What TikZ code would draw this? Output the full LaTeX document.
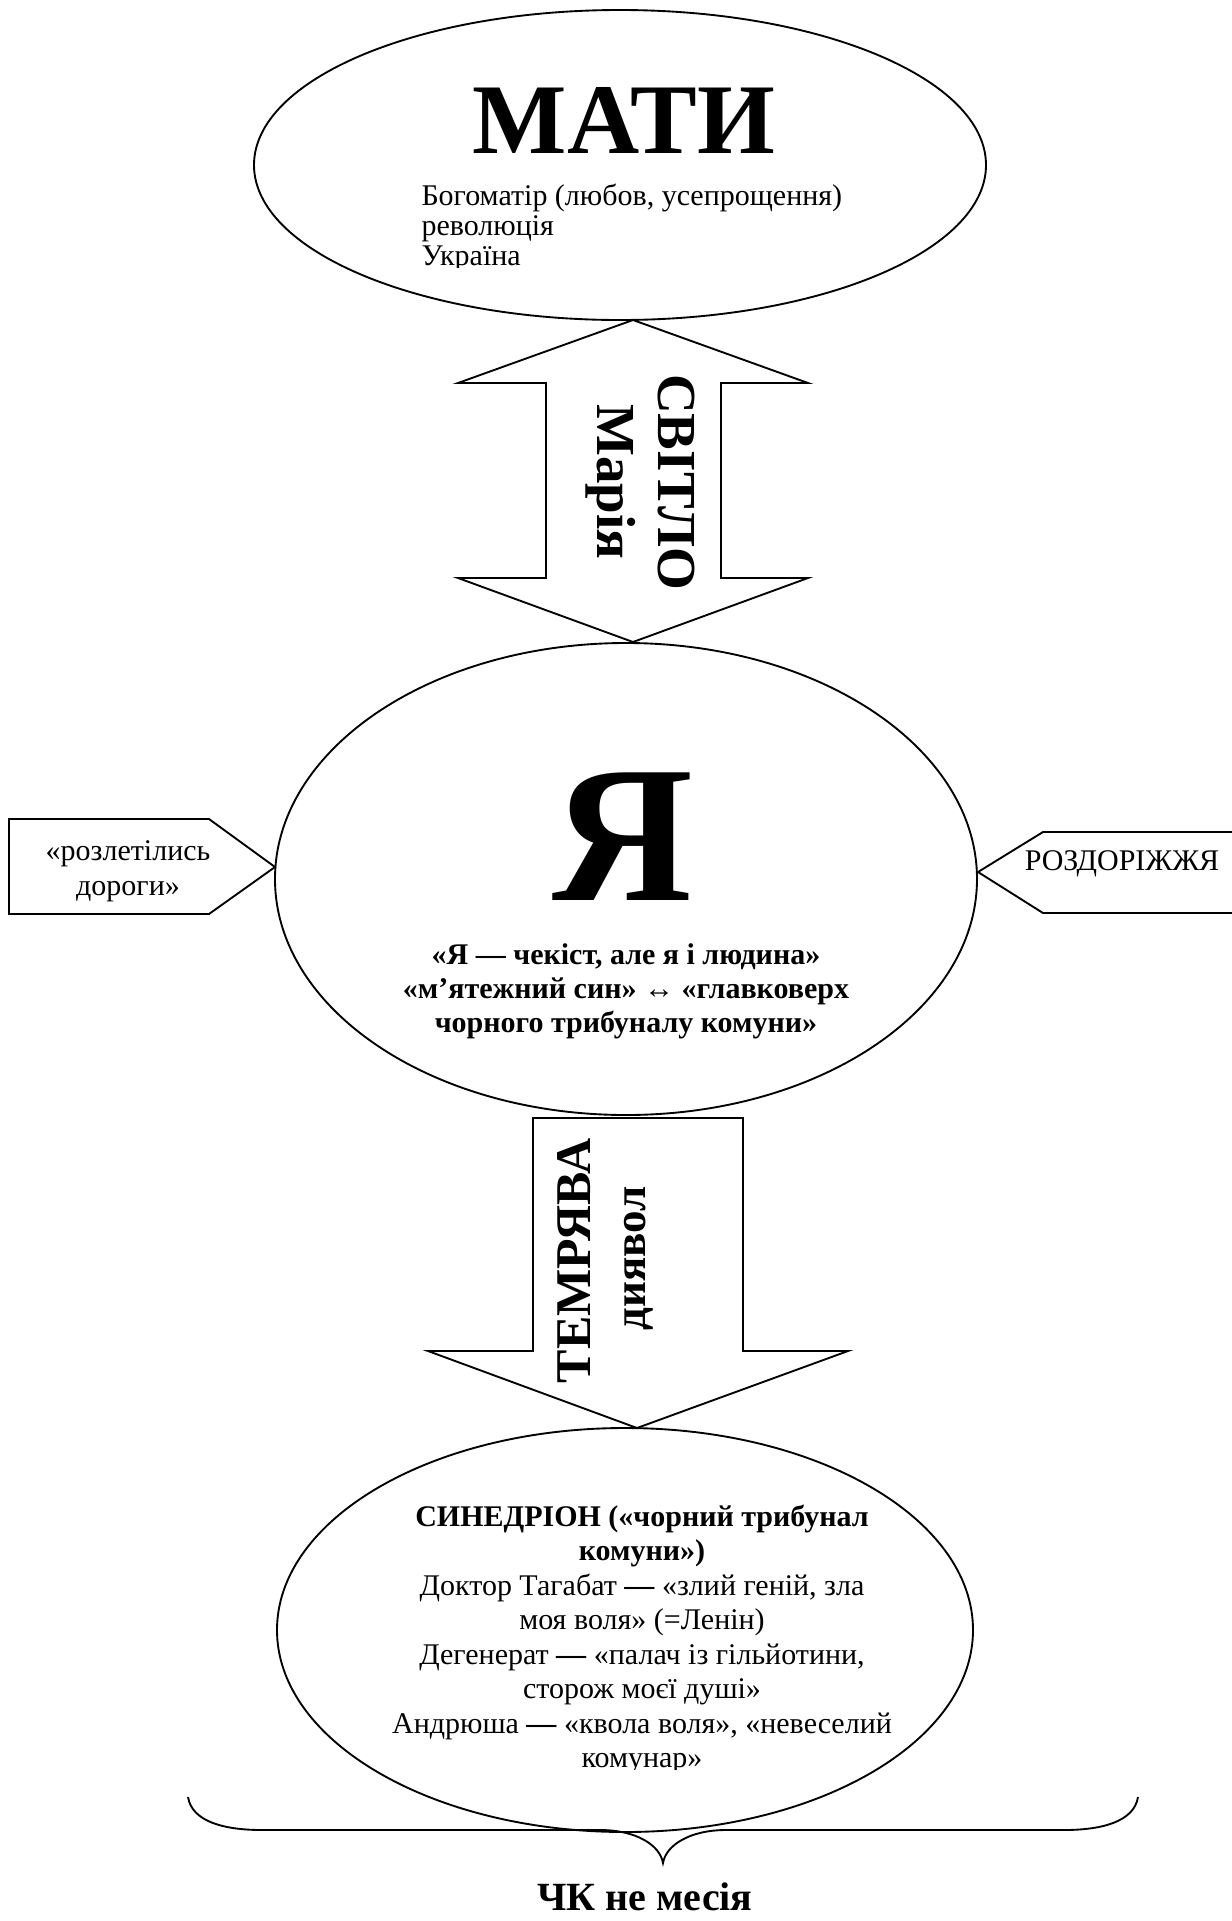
\documentclass[tikz,border=0pt]{standalone}
\usepackage{fontspec}
\setmainfont{Liberation Serif}
\usetikzlibrary{shapes.geometric, calc}
\tikzset{
    outline/.style={draw, line width=0.75pt, line join=miter},
    oval/.style={outline, ellipse, inner sep=0pt},
    plain/.style={font=\fontsize{12}{13.8}\selectfont, inner sep=0pt},
    heavy/.style={font=\fontsize{12}{13.8}\selectfont\bfseries, inner sep=0pt},
    title/.style={font=\fontsize{#1}{#1}\selectfont\bfseries, inner sep=0pt},
}

\begin{document}
\begin{tikzpicture}[x=0.4pt, y=-0.4pt]
        \useasboundingbox (0,0) rectangle (1232,1921);
        \clip (0,0) rectangle (1232,1921);
        \node[oval, minimum width=292.8pt, minimum height=124pt] (mati) at (620,165) {};
        \node[oval, minimum width=280.8pt, minimum height=188.8pt] (ya) at (626,879) {};
        \node[oval, minimum width=278.4pt, minimum height=161.6pt] (syn) at (625,1630) {};
        \draw[outline, fill=white] (633,320) -- (808,383) -- (721,383) -- (721,578) -- (808,578)
            -- (633,642) -- (458,578) -- (546,578) -- (546,383) -- (458,383) -- cycle;
        \draw[outline, fill=white] (533,1118) -- (743,1118) -- (743,1351) -- (848,1351)
            -- (637,1428) -- (428,1351) -- (533,1351) -- cycle;
        \draw[outline] (9,819) -- (209,819) -- (275,867) -- (209,914) -- (9,914) -- cycle;
        \draw[outline] (1250,832) -- (1043,832) -- (978,872) -- (1043,913) -- (1250,913);
        \draw[line width=0.75pt] (188,1797) .. controls (192,1822) and (225,1830) .. (262,1830)
            -- (600,1830) .. controls (636,1830) and (660,1845) .. (663,1863)
            .. controls (666,1845) and (690,1830) .. (726,1830) -- (1064,1830)
            .. controls (1101,1830) and (1134,1822) .. (1138,1797);
        \node[title=40, anchor=base] (mati-title) at (624,153) {МАТИ};
        \begin{scope}
            \clip (400,170) rectangle (900,267);
            \foreach \line [count=\i] in {{Богоматір (любов, усепрощення)}, революція, Україна}
                \node[plain, anchor=base west] (mati-\i) at (421,{205+30*(\i-1)}) {\line};
        \end{scope}
        \node[title=22, rotate=-90, anchor=base] (svitlo) at (658,482) {СВІТЛО};
        \node[title=22, rotate=-90, anchor=base] (mariia) at (597,482) {Марія};
        \node[title=78, anchor=base] (ya-title) at (623,900) {Я};
        \foreach \line [count=\i] in {{«Я — чекіст, але я і людина»}, {«м’ятежний син» ↔ «главковерх}, {чорного трибуналу комуни»}}
            \node[heavy, anchor=base] (ya-\i) at (626,{964+34*(\i-1)}) {\line};
        \node[plain, anchor=base] (roads-1) at (128,860) {«розлетілись};
        \node[plain, anchor=base] (roads-2) at (128,895) {дороги»};
        \node[plain, anchor=base] (crossroads) at (1122,870) {РОЗДОРІЖЖЯ};
        \node[title=20, rotate=90, anchor=base] (temriava) at (590,1261) {ТЕМРЯВА};
        \node[title=18, rotate=90, anchor=base] (dyiavol) at (645,1258) {диявол};
        \foreach \line [count=\i] in {{СИНЕДРІОН («чорний трибунал}, {комуни»)}}
            \node[heavy, anchor=base] (syn-h\i) at (642,{1526+34.5*(\i-1)}) {\line};
        \begin{scope}
            \clip (300,1570) rectangle (1000,1769);
            \foreach \line [count=\i] in {{Доктор Тагабат \textbf{—} «злий геній, зла}, {моя воля» (=Ленін)},
                    {Дегенерат \textbf{—} «палач із гільйотини,}, {сторож моєї душі»},
                    {Андрюша \textbf{—} «квола воля», «невеселий}, {комунар»}}
                \node[plain, anchor=base] (syn-\i) at (642,{1595+34.5*(\i-1)}) {\line};
        \end{scope}
        \node[title=16, anchor=base] (cheka) at (645,1910) {ЧК не месія};
\end{tikzpicture}
\end{document}
